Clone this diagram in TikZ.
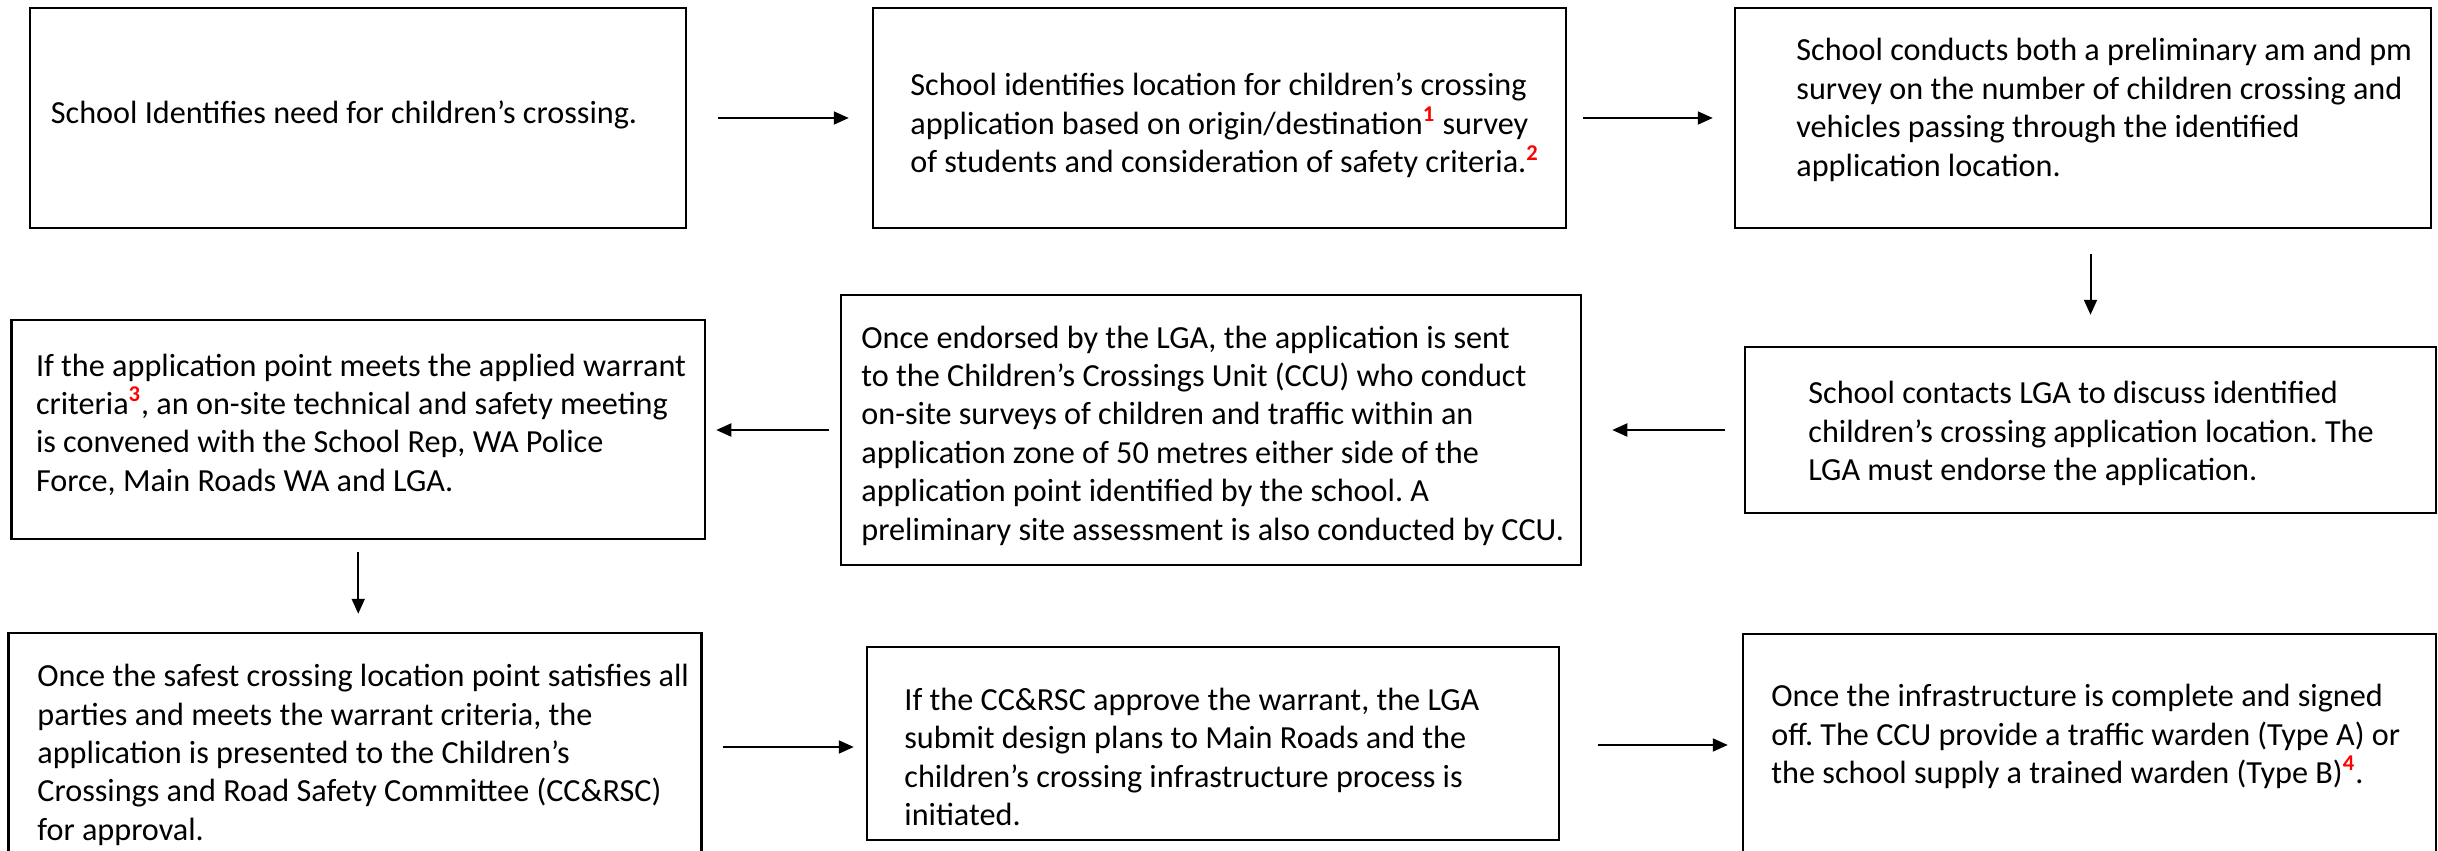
\documentclass[tikz,border=0pt]{standalone}
\usepackage{fontspec}
\setmainfont{Carlito}
\usetikzlibrary{arrows.meta,fit}
\definecolor{fnred}{RGB}{255,0,0}
\newcommand{\fnm}[1]{\textsuperscript{\textcolor{fnred}{\textbf{#1}}}}
\frenchspacing
\begin{document}
\begin{tikzpicture}[x=0.5pt,y=-0.5pt,
  box/.style={draw=black, line width=1.25pt, inner sep=0pt},
  txt/.style={anchor=west, inner sep=0pt, align=left, font=\fontsize{16.1pt}{19.2pt}\selectfont},
  arr/.style={line width=1pt, -{Triangle[length=7.5pt,width=6.5pt]}}]
\useasboundingbox (0,0) rectangle (2438,851);
\clip (0,0) rectangle (2438,851);
\fill[white] (0,0) rectangle (2438,851);
% boxes
\node[box, fit={(30,8) (686,228)}] (b1) {};
\node[box, fit={(873,8) (1566,228)}] (b2) {};
\node[box, fit={(1735,8) (2431,228)}] (b3) {};
\node[box, fit={(11.5,320) (705,539)}] (b4) {};
\node[box, fit={(841,295) (1581,565)}] (b5) {};
\node[box, fit={(1745,347) (2436,513)}] (b6) {};
\node[box, fit={(8.6,633) (701.5,870)}] (b7) {};
\node[box, fit={(867,647) (1559,840)}] (b8) {};
\node[box, fit={(1743,634) (2436,870)}] (b9) {};
% texts
\node[txt] (t1) at (50.5,115) {School Identifies need for children’s crossing.};
\node[txt] (t2) at (910,125.5) {School identifies location for children’s crossing\\application based on origin/destination\fnm{1} survey\\of students and consideration of safety criteria.\fnm{2}};
\node[txt] (t3) at (1796,110) {School conducts both a preliminary am and pm\\survey on the number of children crossing and\\vehicles passing through the identified\\application location.};
\node[txt] (t4) at (35.6,424.5) {If the application point meets the applied warrant\\criteria\fnm{3}, an on-site technical and safety meeting\\is convened with the School Rep, WA Police\\Force, Main Roads WA and LGA.};
\node[txt] (t5) at (861,435.5) {Once endorsed by the LGA, the application is sent\\to the Children’s Crossings Unit (CCU) who conduct\\on-site surveys of children and traffic within an\\application zone of 50 metres either side of the\\application point identified by the school. A\\preliminary site assessment is also conducted by CCU.};
\node[txt] (t6) at (1808,433.5) {School contacts LGA to discuss identified\\children’s crossing application location. The\\LGA must endorse the application.};
\node[txt] (t7) at (37,755) {Once the safest crossing location point satisfies all\\parties and meets the warrant criteria, the\\application is presented to the Children’s\\Crossings and Road Safety Committee (CC\&RSC)\\for approval.};
\node[txt] (t8) at (904,757) {If the CC\&RSC approve the warrant, the LGA\\submit design plans to Main Roads and the\\children’s crossing infrastructure process is\\initiated.};
\node[txt] (t9) at (1771,736.5) {Once the infrastructure is complete and signed\\off. The CCU provide a traffic warden (Type A) or\\the school supply a trained warden (Type B)\fnm{4}.};
% connectors
\draw[arr, shorten <=15.5pt, shorten >=11.5pt] (b1) -- (b2);
\draw[arr, shorten <=8pt, shorten >=10.5pt] (b2) -- (b3);
\draw[arr, shorten <=12.5pt, shorten >=15.5pt] (b3.south -| b6.north) -- (b6.north);
\draw[arr, shorten <=9.5pt, shorten >=15pt] (b6.west) -- (b5.east |- b6.west);
\draw[arr, shorten <=5.5pt, shorten >=5pt] (b5.west) -- (b4.east |- b5.west);
\draw[arr, shorten <=6pt, shorten >=9pt] (b4.south) -- (b4.south |- b7.north);
\coordinate (r3) at (0,747);
\coordinate (r3b) at (0,745);
\draw[arr, shorten <=10.25pt, shorten >=6pt] (b7.east |- r3) -- (b8.west |- r3);
\draw[arr, shorten <=19pt, shorten >=7pt] (b8.east |- r3b) -- (b9.west |- r3b);
\end{tikzpicture}
\end{document}
